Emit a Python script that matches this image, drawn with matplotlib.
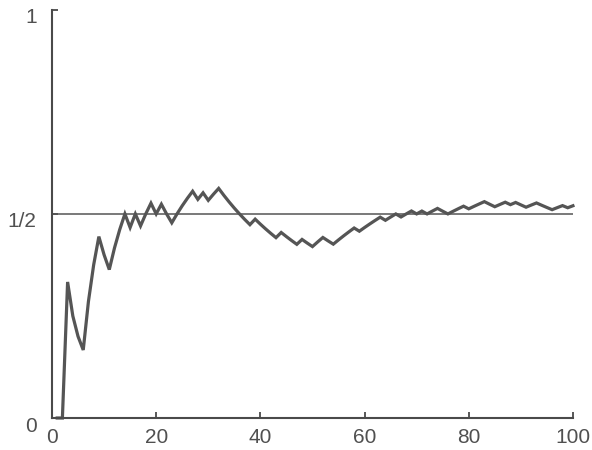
import numpy as np
import matplotlib
matplotlib.use("Agg")
import matplotlib.pyplot as plt
import matplotlib.transforms as mtransforms

# coin tosses (1 = head)
tosses = [0, 0, 1, 0, 0, 0, 1, 1, 1, 0,
          0, 1, 1, 1, 0, 1, 0, 1, 1, 0,
          1, 0, 0, 1, 1, 1, 1, 0, 1, 0,
          1, 1, 0, 0, 0, 0, 0, 0, 1, 0,
          0, 0, 0, 1, 0, 0, 0, 1, 0, 0,
          1, 1, 0, 0, 1, 1, 1, 1, 0, 1,
          1, 1, 1, 0, 1, 1, 0, 1, 1, 0,
          1, 0, 1, 1, 0, 0, 1, 1, 1, 0,
          1, 1, 1, 0, 0, 1, 1, 0, 1, 0,
          0, 1, 1, 0, 0, 0, 1, 1, 0, 1]

n = np.arange(1, len(tosses) + 1)
prop = np.cumsum(tosses) / n

xticks = [0, 20, 40, 60, 80, 100]
yticks = [0, 0.5, 1]
ylabels = ["0", "1/2", "1"]

plt.rcParams['font.family'] = ['Liberation Sans', 'DejaVu Sans']

fig = plt.figure(figsize=(5.92, 4.5), dpi=100)
ax = fig.add_axes([0.0878, 0.0711, 0.880, 0.907])

ax.plot(n, prop, color="#555555", lw=2.3, solid_joinstyle="miter", clip_on=False)
ax.axhline(0.5, color="#555555", lw=1.1)

ax.set_xlim(0, 100)
ax.set_ylim(0, 1)
ax.set_xticks(xticks)
ax.set_yticks(yticks)
ax.set_yticklabels(ylabels)
for s in ["top", "right"]:
    ax.spines[s].set_visible(False)
for s in ["left", "bottom"]:
    ax.spines[s].set_color("#4a4a4a")
    ax.spines[s].set_linewidth(1.5)
ax.tick_params(direction="in", length=4, width=1.3, color="#4a4a4a",
               labelsize=15, labelcolor="#505050")
ax.tick_params(axis="x", pad=7)
ax.tick_params(axis="y", pad=11)

# y labels sit a little below their ticks in the original
shift = mtransforms.ScaledTranslation(0, -6 / 100, fig.dpi_scale_trans)
for lab in ax.get_yticklabels():
    lab.set_transform(lab.get_transform() + shift)

fig.savefig("out.png", dpi=100)
